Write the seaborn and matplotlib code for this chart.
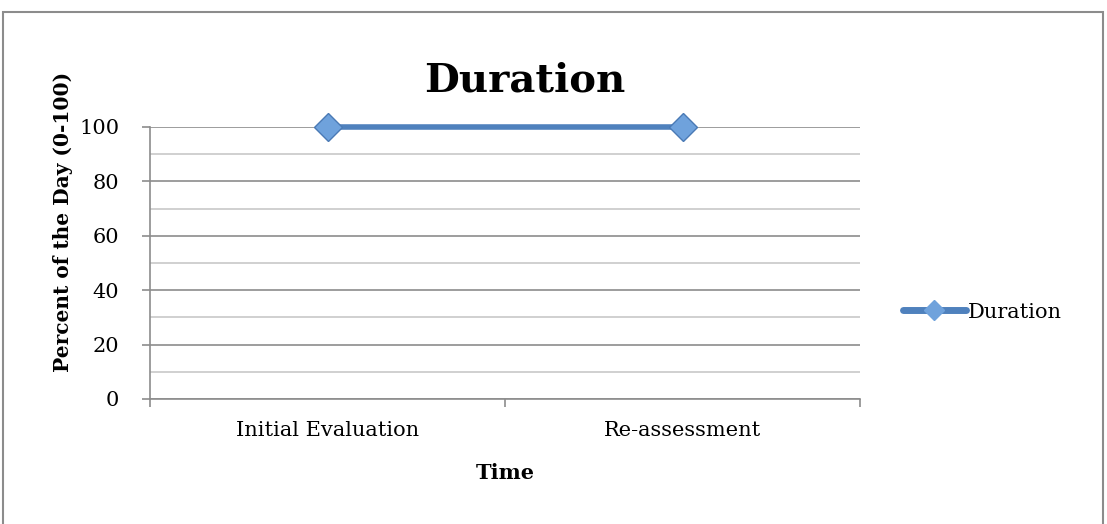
import matplotlib
matplotlib.use("Agg")
import matplotlib.pyplot as plt
import seaborn as sns
import pandas as pd
from matplotlib.patches import Rectangle
from matplotlib.lines import Line2D

# Chart data
categories = ["Initial Evaluation", "Re-assessment"]
duration = [100, 100]
series_name = "Duration"
y_ticks = [0, 20, 40, 60, 80, 100]

df = pd.DataFrame({"pos": range(len(categories)), "value": duration})

sns.set_style("white")
plt.rcParams["font.family"] = ["DejaVu Serif"]
plt.rcParams["text.color"] = "black"
plt.rcParams["xtick.labelcolor"] = "black"
plt.rcParams["ytick.labelcolor"] = "black"

W, H = 1107, 524
fig = plt.figure(figsize=(W / 100, H / 100), dpi=100)
ax = fig.add_axes([150 / W, 1 - 399 / H, 710 / W, 272 / H])

# outer chart frame
fig.patches.append(Rectangle((3 / W, -0.01), 1100 / W, 1 - 12 / H + 0.01,
                             transform=fig.transFigure, fill=False,
                             edgecolor="#8c8c8c", linewidth=1.5))

line_col = "#4f81bd"
sns.lineplot(data=df, x="pos", y="value", ax=ax, color=line_col, linewidth=4,
             marker="D", markersize=14, markerfacecolor="#6fa2dc",
             markeredgecolor="#4a7ab5", markeredgewidth=1.0, zorder=5,
             clip_on=False)

ax.set_xlim(-0.5, len(categories) - 0.5)
ax.set_ylim(0, 100)

# gridlines: major every 20, minor every 10
for v in range(0, 101, 10):
    ax.axhline(v, color="#8c8c8c" if v % 20 == 0 else "#c8c8c8",
               linewidth=1.2, zorder=1)

ax.set_yticks(y_ticks)
ax.set_yticklabels([str(t) for t in y_ticks], fontsize=15, color="black")
ax.set_xticks(range(len(categories)))
ax.set_xticklabels(categories, fontsize=15, color="black")
ax.set_xticks([i - 0.5 for i in range(len(categories) + 1)], minor=True)
ax.tick_params(axis="x", which="major", length=0, pad=16)
ax.tick_params(axis="x", which="minor", length=6, color="#8c8c8c", width=1.2, direction="out")
ax.tick_params(axis="y", which="major", length=6, color="#8c8c8c", width=1.2,
               direction="out", pad=16)
ax.xaxis.set_ticks_position("bottom")
ax.yaxis.set_ticks_position("left")

for s in ["top", "right"]:
    ax.spines[s].set_visible(False)
for s in ["left", "bottom"]:
    ax.spines[s].set_color("#8c8c8c")
    ax.spines[s].set_linewidth(1.2)

ax.set_xlabel("")
ax.set_ylabel("")
fig.text(505 / W, 1 - 473 / H, "Time", fontsize=15, fontweight="bold",
         ha="center", va="center", color="black")
fig.text(63 / W, 1 - 222 / H, "Percent of the Day (0-100)", fontsize=14.5,
         fontweight="bold", rotation=90, ha="center", va="center", color="black")
fig.text(525 / W, 1 - 92 / H, "Duration", fontsize=29, fontweight="bold",
         ha="center", va="baseline", color="black")

handle = Line2D([], [], color=line_col, linewidth=5, marker="D", markersize=10,
                markerfacecolor="#6fa2dc", markeredgecolor="#6fa2dc",
                solid_capstyle="round")
fig.legend([handle], [series_name], loc="center left",
           bbox_to_anchor=(903 / W, 1 - 312 / H), frameon=False,
           fontsize=15, handlelength=3.0, handletextpad=0.1, borderpad=0,
           borderaxespad=0, labelcolor="black")

fig.savefig("out.png", dpi=100)
